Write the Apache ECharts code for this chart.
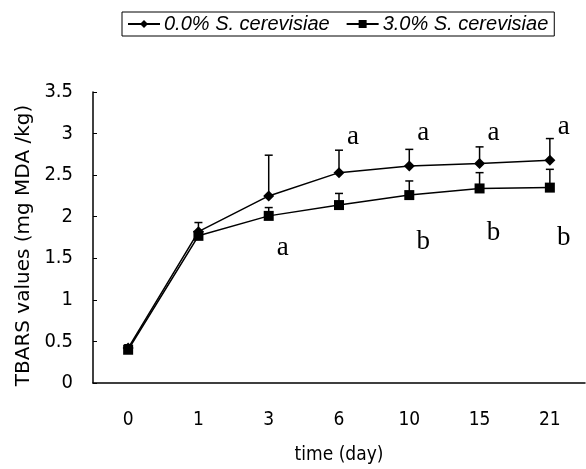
<!DOCTYPE html>
<html>
<head>
<meta charset="utf-8">
<title>TBARS values</title>
<script src="https://cdn.jsdelivr.net/npm/echarts@6/dist/echarts.min.js"></script>
<style>
  html, body { margin: 0; padding: 0; background: #fff; }
  #main { width: 586px; height: 469px; }
</style>
</head>
<body>
<div id="main"></div>
<script>
// storage time (day)
const days = ['0', '1', '3', '6', '10', '15', '21'];

// 0.0% S. cerevisiae
const control = [0.42, 1.82, 2.25, 2.53, 2.61, 2.64, 2.68];
const controlErr = [0.04, 0.11, 0.49, 0.27, 0.20, 0.20, 0.26];

// 3.0% S. cerevisiae
const yeast = [0.40, 1.77, 2.01, 2.14, 2.26, 2.34, 2.35];
const yeastErr = [0.04, 0.05, 0.10, 0.14, 0.17, 0.19, 0.22];

// significance letters and the height they sit at
const topLetters = ['', '', '', 'a', 'a', 'a', 'a'];
const topLetterY = [0, 0, 0, 2.96, 3.01, 3.01, 3.08];
const lowLetters = ['', '', 'a', '', 'b', 'b', 'b'];
const lowLetterY = [0, 0, 1.62, 0, 1.70, 1.80, 1.74];

const yTicks = { min: 0, max: 3.5, interval: 0.5 };

const labelFont = "'Liberation Sans Narrow', 'DejaVu Sans Condensed', 'Liberation Sans', sans-serif";

// error bar (upper side only) with a small cap
function errorBar(values, errs) {
  return function (params, api) {
    const i = api.value(0);
    const p0 = api.coord([i, values[i]]);
    const p1 = api.coord([i, values[i] + errs[i]]);
    const style = { stroke: '#000', lineWidth: 1.5 };
    return {
      type: 'group',
      children: [
        { type: 'line', shape: { x1: p0[0], y1: p0[1], x2: p1[0], y2: p1[1] }, style: style },
        { type: 'line', shape: { x1: p1[0] - 4, y1: p1[1], x2: p1[0] + 4, y2: p1[1] }, style: style }
      ]
    };
  };
}

// letters placed a little right of each day
function letterItem(letters, ys) {
  return function (params, api) {
    const i = api.value(0);
    if (!letters[i]) return null;
    const p = api.coord([i, ys[i]]);
    return {
      type: 'text',
      x: p[0] + 14,
      y: p[1],
      style: {
        text: letters[i],
        fill: '#000',
        font: "27px 'Liberation Serif', serif",
        align: 'center',
        verticalAlign: 'middle'
      }
    };
  };
}

const idx = days.map((d, i) => [i]);

const chart = echarts.init(document.getElementById('main'), null, { renderer: 'canvas' });

const option = {
  backgroundColor: '#fff',
  animation: false,
  legend: {
    left: 122,
    top: 12,
    padding: [2, 6, 2, 5],
    itemGap: 16,
    itemWidth: 32,
    itemHeight: 10,
    borderColor: '#000',
    borderWidth: 1,
    data: ['0.0% S. cerevisiae', '3.0% S. cerevisiae'],
    textStyle: {
      color: '#000',
      fontSize: 20,
      fontStyle: 'italic',
      fontFamily: "'Liberation Sans', Arial, sans-serif",
      padding: [0, 0, 0, -1]
    }
  },
  grid: {
    left: 93,
    right: 1,
    top: 92,
    bottom: 86,
    outerBoundsMode: 'none'
  },
  xAxis: {
    type: 'category',
    data: days,
    boundaryGap: true,
    name: 'time (day)',
    nameLocation: 'middle',
    nameGap: 63,
    nameTextStyle: { color: '#000', fontSize: 19, fontFamily: labelFont },
    axisLine: { lineStyle: { color: '#000', width: 1.5 } },
    axisTick: { inside: true, length: 5, lineStyle: { color: '#000' } },
    axisLabel: { color: '#000', fontSize: 19, margin: 28, fontFamily: labelFont },
    splitLine: { show: false }
  },
  yAxis: {
    type: 'value',
    min: yTicks.min,
    max: yTicks.max,
    interval: yTicks.interval,
    name: 'TBARS values (mg MDA /kg)',
    nameLocation: 'middle',
    nameGap: 55,
    nameTextStyle: {
      color: '#000',
      fontSize: 20,
      fontFamily: "'DejaVu Sans', sans-serif",
      padding: [0, 16, 0, 0]
    },
    axisLine: { show: true, lineStyle: { color: '#000', width: 1.5 } },
    axisTick: { show: true, inside: true, length: 4, lineStyle: { color: '#000' } },
    axisLabel: { color: '#000', fontSize: 20, margin: 20, fontFamily: labelFont },
    splitLine: { show: false }
  },
  series: [
    {
      type: 'custom',
      renderItem: errorBar(control, controlErr),
      data: idx,
      z: 1,
      silent: true
    },
    {
      type: 'custom',
      renderItem: errorBar(yeast, yeastErr),
      data: idx,
      z: 1,
      silent: true
    },
    {
      name: '0.0% S. cerevisiae',
      type: 'line',
      data: control,
      symbol: 'diamond',
      symbolSize: 11,
      color: '#000',
      lineStyle: { color: '#000', width: 1.5 },
      itemStyle: { color: '#000' },
      z: 3
    },
    {
      name: '3.0% S. cerevisiae',
      type: 'line',
      data: yeast,
      symbol: 'rect',
      symbolSize: 10,
      color: '#000',
      lineStyle: { color: '#000', width: 1.5 },
      itemStyle: { color: '#000' },
      z: 4
    },
    {
      type: 'custom',
      renderItem: letterItem(topLetters, topLetterY),
      data: idx,
      silent: true,
      z: 5
    },
    {
      type: 'custom',
      renderItem: letterItem(lowLetters, lowLetterY),
      data: idx,
      silent: true,
      z: 5
    }
  ]
};

chart.setOption(option);
</script>
</body>
</html>
